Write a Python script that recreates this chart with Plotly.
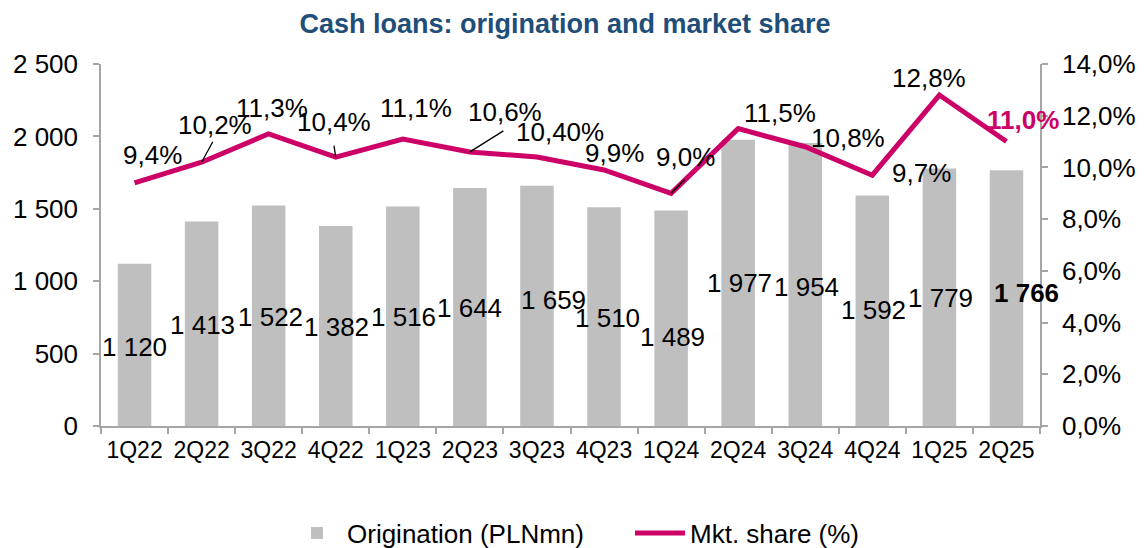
import plotly.graph_objects as go

# ---- data ----
quarters = ["1Q22", "2Q22", "3Q22", "4Q22", "1Q23", "2Q23", "3Q23", "4Q23",
            "1Q24", "2Q24", "3Q24", "4Q24", "1Q25", "2Q25"]
origination = [1120, 1413, 1522, 1382, 1516, 1644, 1659, 1510, 1489, 1977, 1954, 1592, 1779, 1766]
mkt_share = [9.4, 10.2, 11.3, 10.4, 11.1, 10.6, 10.4, 9.9, 9.0, 11.5, 10.8, 9.7, 12.8, 11.0]
orig_labels = ["1 120", "1 413", "1 522", "1 382", "1 516", "1 644", "1 659", "1 510",
               "1 489", "1 977", "1 954", "1 592", "1 779", "1 766"]
share_labels = ["9,4%", "10,2%", "11,3%", "10,4%", "11,1%", "10,6%", "10,40%", "9,9%",
                "9,0%", "11,5%", "10,8%", "9,7%", "12,8%", "11,0%"]
y_tickvals = [0, 500, 1000, 1500, 2000, 2500]
y_ticktext = ["0", "500", "1 000", "1 500", "2 000", "2 500"]
y2_tickvals = [0, 2, 4, 6, 8, 10, 12, 14]
y2_ticktext = ["0,0%", "2,0%", "4,0%", "6,0%", "8,0%", "10,0%", "12,0%", "14,0%"]

# ---- label placement (manual, as in the source chart) ----
orig_label_y = [546, 697, 753, 684, 753, 815, 870, 746, 615, 988, 960, 801, 884, 918]
orig_label_dx = [0, 1, 2, 1, 1, 0, 17, 3, 1, 1, 1, 1, 1, 20]
share_label_y = [10.48, 11.64, 12.30, 11.76, 12.30, 12.14, 11.37, 10.56, 10.40, 12.10, 11.14, 9.78, 13.46, 11.83]
share_label_dx = [18, 13, 3, -2, 13, 35, 23, 10, 14, 42, 43, 49, -10, 17]
leaders = {1: (12, -22), 3: (-2, -13), 5: (35, -22), 8: (15, -15)}

FONT = "Arial, Liberation Sans, sans-serif"
BAR_C = "#BFBFBF"
LINE_C = "#CC0066"
AX_C = "#A6A6A6"
FS = 26

# page body adds an 8px margin; figure is sized so the page is 1147x548
W, H = 1139, 540

fig = go.Figure()
fig.add_trace(go.Bar(x=quarters, y=origination, name="Origination (PLNmn)",
                     marker=dict(color=BAR_C, line=dict(width=0)), yaxis="y"))
fig.add_trace(go.Scatter(x=quarters, y=mkt_share, name="Mkt. share (%)", mode="lines",
                         line=dict(color=LINE_C, width=5), yaxis="y2"))

ann = []
last = len(quarters) - 1
for i, q in enumerate(quarters):
    ann.append(dict(x=q, y=orig_label_y[i], xref="x", yref="y", text=orig_labels[i],
                    showarrow=False, xshift=orig_label_dx[i],
                    font=dict(size=FS, color="black", family=FONT,
                              weight="bold" if i == last else "normal")))
    ann.append(dict(x=q, y=share_label_y[i], xref="x", yref="y2", text=share_labels[i],
                    showarrow=False, xshift=share_label_dx[i],
                    font=dict(size=FS, color=LINE_C if i == last else "black", family=FONT,
                              weight="bold" if i == last else "normal")))
for i, (ax, ay) in leaders.items():
    ann.append(dict(x=quarters[i], y=mkt_share[i], xref="x", yref="y2", text="",
                    showarrow=True, arrowhead=0, arrowwidth=1.3, arrowcolor="black",
                    ax=ax, ay=ay, standoff=0, startstandoff=0))

fig.update_layout(
    width=W, height=H,
    margin=dict(l=93, r=107, t=56, b=122, autoexpand=False),
    paper_bgcolor="white", plot_bgcolor="white",
    font=dict(family=FONT, size=FS, color="black"),
    title=dict(text="<b>Cash loans: origination and market share</b>",
               x=557 / W, xref="container", xanchor="center",
               y=1 - 16 / H, yref="container", yanchor="middle",
               font=dict(size=27, color="#1F4E79", family=FONT)),
    bargap=0.5,
    showlegend=True,
    legend=dict(orientation="h", xref="container", yref="container",
                x=279 / W, xanchor="left", y=(H - 525) / H, yanchor="middle",
                font=dict(size=FS, family=FONT), itemwidth=50, entrywidth=278,
                tracegroupgap=0, bgcolor="rgba(0,0,0,0)"),
    xaxis=dict(type="category", range=[-0.5, len(quarters) - 0.5], autorange=False,
               showline=True, linecolor=AX_C, linewidth=1.5,
               ticks="outside", tickson="boundaries", ticklen=6, tickcolor=AX_C, tickwidth=1.5,
               tickfont=dict(size=23), tickangle=0, showgrid=False, zeroline=False,
               ticklabelstandoff=3, automargin=False),
    yaxis=dict(range=[0, 2500], autorange=False, tickvals=y_tickvals, ticktext=y_ticktext,
               showline=True, linecolor=AX_C, linewidth=1.5, ticks="outside", ticklen=6,
               tickcolor=AX_C, tickwidth=1.5, showgrid=False, zeroline=False,
               tickfont=dict(size=FS), ticklabelstandoff=10, automargin=False),
    yaxis2=dict(range=[0, 14], autorange=False, tickvals=y2_tickvals, ticktext=y2_ticktext,
                overlaying="y",
                side="right", showline=True, linecolor=AX_C, linewidth=1.5, ticks="outside",
                ticklen=6, tickcolor=AX_C, tickwidth=1.5, showgrid=False, zeroline=False,
                tickfont=dict(size=FS), ticklabelstandoff=9, automargin=False),
    annotations=ann,
)

fig.write_html("out.html")
